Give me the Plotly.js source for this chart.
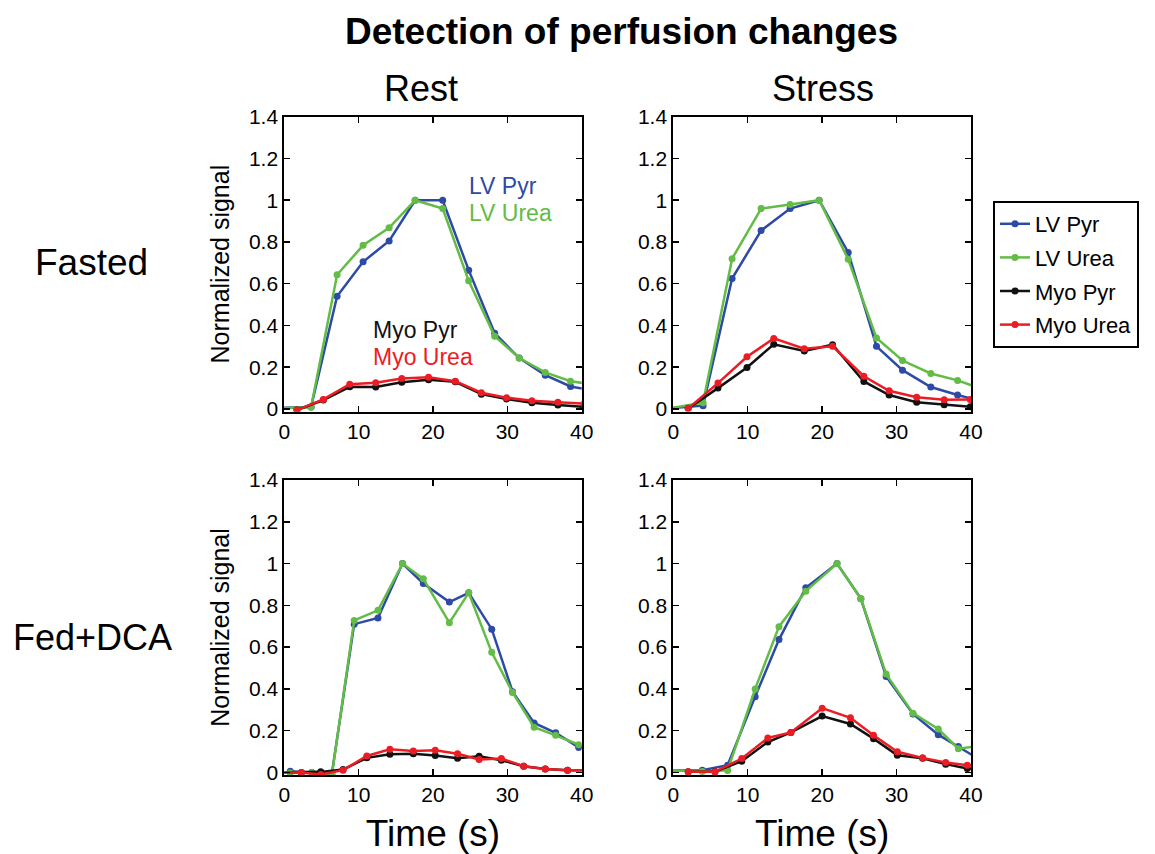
<!DOCTYPE html>
<html>
<head>
<meta charset="utf-8">
<script src="https://cdn.plot.ly/plotly-3.0.1.min.js"></script>
<style>html,body{margin:0;padding:0;background:#fff;}#chart{width:1155px;height:854px;}</style>
</head>
<body>
<div id="chart"></div>
<script>
// ---------- data ----------
const seriesNames = ["LV Pyr", "LV Urea", "Myo Pyr", "Myo Urea"];
const seriesColors = ["#2c4aa6", "#62bc45", "#111111", "#ec1c24"];

// Fasted / Rest
const fastedRestLvTime  = [-0.5, 3.6, 7.1, 10.6, 14.1, 17.6, 21.3, 24.8, 28.3, 31.6, 35.1, 38.5, 42.0];
const fastedRestLvPyr   = [0.005, 0.01, 0.54, 0.705, 0.805, 1.0, 1.0, 0.665, 0.363, 0.244, 0.162, 0.108, 0.085];
const fastedRestLvUrea  = [0.005, 0.008, 0.643, 0.784, 0.868, 1.0, 0.96, 0.614, 0.349, 0.244, 0.175, 0.133, 0.115];
const fastedRestMyoTime = [1.7, 5.25, 8.8, 12.3, 15.8, 19.4, 23.0, 26.5, 29.9, 33.3, 36.8, 40.3];
const fastedRestMyoPyr  = [-0.005, 0.043, 0.106, 0.105, 0.128, 0.14, 0.13, 0.071, 0.048, 0.03, 0.019, 0.01];
const fastedRestMyoUrea = [-0.005, 0.046, 0.119, 0.126, 0.146, 0.152, 0.133, 0.078, 0.054, 0.04, 0.032, 0.026];

// Fasted / Stress
const fastedStressLvTime  = [-0.5, 4.0, 7.9, 11.8, 15.7, 19.6, 23.5, 27.3, 30.8, 34.6, 38.2, 41.8];
const fastedStressLvPyr   = [0.003, 0.016, 0.625, 0.855, 0.96, 1.0, 0.75, 0.30, 0.186, 0.105, 0.067, 0.034];
const fastedStressLvUrea  = [0.003, 0.03, 0.72, 0.96, 0.98, 1.0, 0.717, 0.34, 0.232, 0.17, 0.137, 0.091];
const fastedStressMyoTime = [2.0, 6.0, 9.9, 13.5, 17.6, 21.4, 25.6, 29.0, 32.7, 36.4, 39.9];
const fastedStressMyoPyr  = [0.003, 0.10, 0.199, 0.31, 0.278, 0.308, 0.132, 0.067, 0.032, 0.02, 0.011];
const fastedStressMyoUrea = [0.003, 0.124, 0.25, 0.338, 0.289, 0.30, 0.157, 0.087, 0.056, 0.044, 0.046];

// Fed+DCA / Rest
const fedRestLvTime  = [0.8, 3.7, 6.4, 9.4, 12.6, 15.9, 18.7, 22.2, 24.8, 27.9, 30.7, 33.6, 36.5, 39.6, 42.5];
const fedRestLvPyr   = [0.006, 0.0, -0.005, 0.71, 0.74, 1.0, 0.905, 0.816, 0.86, 0.686, 0.387, 0.237, 0.19, 0.12, 0.12];
const fedRestLvUrea  = [-0.003, 0.0, -0.012, 0.728, 0.776, 1.0, 0.927, 0.717, 0.86, 0.575, 0.383, 0.217, 0.178, 0.133, 0.125];
const fedRestMyoTime = [-0.5, 2.3, 4.9, 7.9, 11.1, 14.2, 17.35, 20.3, 23.3, 26.2, 29.2, 32.2, 35.1, 38.1, 41.1];
const fedRestMyoPyr  = [0.0, 0.0, 0.003, 0.014, 0.07, 0.087, 0.09, 0.081, 0.068, 0.078, 0.059, 0.03, 0.017, 0.011, 0.01];
const fedRestMyoUrea = [0.0, 0.0, -0.01, 0.011, 0.079, 0.111, 0.103, 0.106, 0.09, 0.062, 0.067, 0.03, 0.017, 0.011, 0.011];

// Fed+DCA / Stress
const fedStressLvTime  = [-0.5, 3.9, 7.3, 11.0, 14.2, 17.8, 22.0, 25.2, 28.6, 32.2, 35.6, 38.3, 41.8];
const fedStressLvPyr   = [0.01, 0.011, 0.035, 0.363, 0.636, 0.884, 1.0, 0.832, 0.46, 0.28, 0.181, 0.125, 0.048];
const fedStressLvUrea  = [0.01, 0.005, 0.01, 0.40, 0.698, 0.868, 1.0, 0.832, 0.471, 0.284, 0.208, 0.114, 0.13];
const fedStressMyoTime = [2.0, 5.6, 9.2, 12.7, 15.8, 20.0, 23.8, 26.9, 30.1, 33.5, 36.6, 39.5, 42.8];
const fedStressMyoPyr  = [0.003, 0.003, 0.054, 0.146, 0.192, 0.27, 0.232, 0.162, 0.082, 0.068, 0.04, 0.019, 0.01];
const fedStressMyoUrea = [0.003, 0.003, 0.067, 0.165, 0.192, 0.308, 0.262, 0.178, 0.099, 0.07, 0.048, 0.035, 0.033];

const xTickVals = [0, 10, 20, 30, 40];
const yTickVals = [0, 0.2, 0.4, 0.6, 0.8, 1, 1.2, 1.4];
const rowLabels = ["Fasted", "Fed+DCA"];
const colLabels = ["Rest", "Stress"];

// ---------- build traces ----------
const panels = [
  {ax: "", lvT: fastedRestLvTime, myoT: fastedRestMyoTime, vals: [fastedRestLvPyr, fastedRestLvUrea, fastedRestMyoPyr, fastedRestMyoUrea]},
  {ax: "2", lvT: fastedStressLvTime, myoT: fastedStressMyoTime, vals: [fastedStressLvPyr, fastedStressLvUrea, fastedStressMyoPyr, fastedStressMyoUrea]},
  {ax: "3", lvT: fedRestLvTime, myoT: fedRestMyoTime, vals: [fedRestLvPyr, fedRestLvUrea, fedRestMyoPyr, fedRestMyoUrea]},
  {ax: "4", lvT: fedStressLvTime, myoT: fedStressMyoTime, vals: [fedStressLvPyr, fedStressLvUrea, fedStressMyoPyr, fedStressMyoUrea]}
];
const traces = [];
panels.forEach((p, pi) => {
  p.vals.forEach((v, si) => {
    traces.push({
      type: "scatter", mode: "lines+markers",
      x: si < 2 ? p.lvT : p.myoT, y: v,
      xaxis: "x" + p.ax, yaxis: "y" + p.ax,
      name: seriesNames[si], legendgroup: seriesNames[si],
      showlegend: pi === 0,
      line: {color: seriesColors[si], width: 2.5},
      marker: {color: seriesColors[si], size: 7},
      cliponaxis: true, hoverinfo: "x+y+name"
    });
  });
});

// ---------- layout ----------
const W = 1155, H = 854;
const FONT = "Liberation Sans, Arial, Helvetica, sans-serif";
const colPx = [[284.3, 581.7], [673.3, 971]];
const rowPx = [[116.7, 411.5], [480, 775]];
function xdom(c) { return [colPx[c][0] / W, colPx[c][1] / W]; }
function ydom(r) { return [1 - rowPx[r][1] / H, 1 - rowPx[r][0] / H]; }

const baseX = {
  range: [0, 40], tickvals: xTickVals, ticks: "inside", ticklen: 6, tickwidth: 1.5,
  tickcolor: "#000", showline: true, linecolor: "#000", linewidth: 2, mirror: "ticks",
  showgrid: false, zeroline: false, tickfont: {family: FONT, size: 21, color: "#000"}, fixedrange: true
};
const baseY = {
  range: [-0.012, 1.4], tickvals: yTickVals, ticks: "inside", ticklen: 6, tickwidth: 1.5,
  tickcolor: "#000", showline: true, linecolor: "#000", linewidth: 2, mirror: "ticks",
  showgrid: false, zeroline: false, tickfont: {family: FONT, size: 21, color: "#000"}, fixedrange: true
};
const layout = {
  width: W, height: H, margin: {l: 0, r: 0, t: 0, b: 0},
  paper_bgcolor: "#fff", plot_bgcolor: "#fff",
  font: {family: FONT, color: "#000"},
  showlegend: true,
  legend: {
    x: 993 / W, y: 1 - 201 / H, xanchor: "left", yanchor: "top",
    bordercolor: "#000", borderwidth: 2, bgcolor: "#fff",
    font: {family: FONT, size: 22, color: "#000"},
    traceorder: "grouped", tracegroupgap: 2, itemwidth: 30, entrywidth: 150
  },
  xaxis:  Object.assign({}, baseX, {domain: xdom(0), anchor: "y"}),
  yaxis:  Object.assign({}, baseY, {domain: ydom(0), anchor: "x",
            title: {text: "Normalized signal", font: {family: FONT, size: 25, color: "#000"}, standoff: 12}}),
  xaxis2: Object.assign({}, baseX, {domain: xdom(1), anchor: "y2"}),
  yaxis2: Object.assign({}, baseY, {domain: ydom(0), anchor: "x2"}),
  xaxis3: Object.assign({}, baseX, {domain: xdom(0), anchor: "y3",
            title: {text: "Time (s)", font: {family: FONT, size: 37, color: "#000"}, standoff: 16}}),
  yaxis3: Object.assign({}, baseY, {domain: ydom(1), anchor: "x3",
            title: {text: "Normalized signal", font: {family: FONT, size: 25, color: "#000"}, standoff: 12}}),
  xaxis4: Object.assign({}, baseX, {domain: xdom(1), anchor: "y4",
            title: {text: "Time (s)", font: {family: FONT, size: 37, color: "#000"}, standoff: 16}}),
  yaxis4: Object.assign({}, baseY, {domain: ydom(1), anchor: "x4"}),
  annotations: [
    {text: "<b>Detection of perfusion changes</b>", x: 621 / W, y: 1 - 31 / H, xref: "paper", yref: "paper",
     showarrow: false, xanchor: "center", yanchor: "middle", font: {family: FONT, size: 37, color: "#000"}},
    {text: colLabels[0], x: 421 / W, y: 1 - 88 / H, xref: "paper", yref: "paper", showarrow: false,
     xanchor: "center", yanchor: "middle", font: {family: FONT, size: 36, color: "#000"}},
    {text: colLabels[1], x: 823 / W, y: 1 - 88 / H, xref: "paper", yref: "paper", showarrow: false,
     xanchor: "center", yanchor: "middle", font: {family: FONT, size: 36, color: "#000"}},
    {text: rowLabels[0], x: 91 / W, y: 1 - 262 / H, xref: "paper", yref: "paper", showarrow: false,
     xanchor: "center", yanchor: "middle", font: {family: FONT, size: 37, color: "#000"}},
    {text: rowLabels[1], x: 92 / W, y: 1 - 637 / H, xref: "paper", yref: "paper", showarrow: false,
     xanchor: "center", yanchor: "middle", font: {family: FONT, size: 36, color: "#000"}},
    {text: seriesNames[0], x: 24.6, y: 1.07, xref: "x", yref: "y", showarrow: false, xanchor: "left", yanchor: "middle",
     font: {family: FONT, size: 23, color: seriesColors[0]}},
    {text: seriesNames[1], x: 24.6, y: 0.94, xref: "x", yref: "y", showarrow: false, xanchor: "left", yanchor: "middle",
     font: {family: FONT, size: 23, color: seriesColors[1]}},
    {text: seriesNames[2], x: 11.6, y: 0.379, xref: "x", yref: "y", showarrow: false, xanchor: "left", yanchor: "middle",
     font: {family: FONT, size: 23, color: seriesColors[2]}},
    {text: seriesNames[3], x: 11.6, y: 0.25, xref: "x", yref: "y", showarrow: false, xanchor: "left", yanchor: "middle",
     font: {family: FONT, size: 23, color: seriesColors[3]}}
  ]
};
Plotly.newPlot("chart", traces, layout, {displayModeBar: false, staticPlot: true});
</script>
</body>
</html>
